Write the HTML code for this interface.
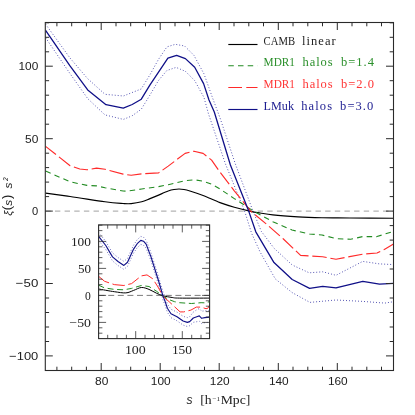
<!DOCTYPE html>
<html><head><meta charset="utf-8"><title>xi(s) s^2</title>
<style>
html,body{margin:0;padding:0;background:#fff;}
svg{display:block;will-change:transform;}
text{font-family:"Liberation Serif",serif;}
.sans, .sans text, text.sans, tspan.sans{font-family:"Liberation Sans",sans-serif;}
</style></head><body>
<svg width="415" height="415" viewBox="0 0 415 415">
<rect width="415" height="415" fill="#fff"/>
<clipPath id="mc"><rect x="45.3" y="22.5" width="348.2" height="348.0"/></clipPath>
<path d="M45.3,211.1 H393.5" stroke="#b4b4b4" stroke-width="1.4" stroke-dasharray="5.4 4.25" fill="none"/>
<g fill="none" stroke-linejoin="round" clip-path="url(#mc)">
<path d="M45.6,24.2 L70.0,58.0 L87.5,78.5 L105.0,94.3 L123.4,96.0 L141.3,88.9 L150.0,74.7 L158.4,59.5 L166.9,46.9 L175.3,44.3 L184.6,46.0 L193.9,55.3 L204.0,73.9 L212.4,97.5 L220.0,117.8 L235.2,163.5 L252.6,210.1 L261.3,231.3 L274.0,248.2 L292.2,265.0 L309.2,272.8 L322.8,271.8 L336.0,275.3 L362.7,261.4 L379.5,263.9 L393.5,264.6" stroke="#3c3ca8" stroke-width="0.95" stroke-dasharray="0.9 2.1"/>
<path d="M45.6,37.7 L70.0,73.6 L87.7,98.6 L105.0,114.9 L123.4,119.4 L132.0,115.9 L141.3,109.2 L150.0,95.0 L158.4,80.6 L166.9,70.5 L176.1,67.4 L185.4,71.3 L194.7,80.6 L204.0,97.5 L208.5,113.9 L225.3,163.5 L244.9,212.0 L251.6,233.3 L260.0,251.8 L275.2,278.8 L292.0,292.5 L309.9,302.4 L335.9,300.0 L362.9,301.4 L384.8,303.1 L393.5,301.7" stroke="#3c3ca8" stroke-width="0.95" stroke-dasharray="0.9 2.1"/>
<path d="M45.6,193.1 C49.7,193.7 60.2,195.1 70.1,196.5 C80.0,197.9 96.2,200.6 105.0,201.8 C113.8,203.0 118.7,203.2 123.1,203.5 C127.5,203.8 128.1,203.9 131.2,203.6 C134.3,203.3 138.6,202.6 141.7,201.8 C144.8,201.0 147.2,199.7 150.0,198.6 C152.8,197.5 155.6,196.4 158.6,195.1 C161.6,193.8 165.6,191.9 168.2,191.0 C170.8,190.1 172.2,189.8 174.0,189.5 C175.8,189.2 177.3,189.0 179.0,189.0 C180.7,189.0 182.2,189.2 184.0,189.5 C185.8,189.8 186.7,190.0 189.9,191.0 C193.1,192.0 198.1,193.6 203.1,195.5 C208.1,197.4 214.8,200.7 220.0,202.6 C225.2,204.5 229.4,205.8 234.3,207.2 C239.2,208.6 245.4,210.1 249.7,211.1 C254.0,212.1 256.1,212.4 260.0,213.0 C263.9,213.6 266.5,214.2 272.8,214.9 C279.1,215.6 289.8,216.4 298.0,216.9 C306.2,217.4 313.3,217.6 322.0,217.8 C330.7,218.0 338.1,217.9 350.0,218.0 C361.9,218.1 386.2,218.2 393.5,218.3" stroke="#000" stroke-width="1.15"/>
<path d="M45.6,171.0 L70.1,181.8 L87.0,185.4 L96.6,185.9 L105.0,187.8 L123.1,191.0 L127.2,191.2 L141.7,189.0 L158.6,186.6 L168.2,184.7 L185.1,180.6 L194.5,179.8 L203.1,181.1 L211.6,184.2 L220.0,189.0 L234.3,198.6 L253.6,211.1 L272.8,221.7 L292.0,230.0 L309.4,234.0 L322.0,235.0 L336.1,238.6 L350.6,239.3 L362.7,236.6 L377.0,236.6 L393.5,231.3" stroke="#228b22" stroke-width="1.1" stroke-dasharray="5.5 4.2"/>
<path d="M45.6,146.4 L70.1,165.7 L79.8,169.0 L87.0,169.8 L96.6,168.1 L105.0,169.3 L123.1,174.1 L131.2,175.3 L141.7,173.9 L158.6,172.9 L168.2,166.1 L185.1,153.4 L194.0,151.2 L203.1,153.4 L211.6,160.1 L220.0,172.2 L234.3,190.8 L250.7,211.1 L267.0,224.6 L283.4,239.0 L300.6,255.4 L322.6,256.8 L336.0,259.2 L362.7,254.2 L377.0,253.0 L384.3,249.4 L393.5,244.1" stroke="#ff2a2a" stroke-width="1.15" stroke-dasharray="14.4 3.8" stroke-dashoffset="1.2"/>
<path d="M45.6,30.4 L70.0,65.9 L87.7,89.9 L106.0,104.7 L123.3,108.2 L132.2,104.5 L141.3,99.2 L150.0,84.8 L167.9,58.2 L176.6,55.3 L185.4,58.6 L194.7,67.3 L203.6,83.6 L209.0,100.0 L214.3,112.0 L230.4,165.0 L248.7,211.1 L255.8,231.8 L274.0,262.6 L292.2,279.5 L309.6,288.3 L322.7,286.3 L336.0,287.8 L362.8,281.3 L379.5,284.2 L393.5,283.4" stroke="#101088" stroke-width="1.3"/>
</g>
<path d="M56.9,370.5 v-3.8 M56.9,22.5 v3.8 M71.7,370.5 v-3.8 M71.7,22.5 v3.8 M86.4,370.5 v-3.8 M86.4,22.5 v3.8 M101.2,370.5 v-7.5 M101.2,22.5 v7.5 M116.0,370.5 v-3.8 M116.0,22.5 v3.8 M130.7,370.5 v-3.8 M130.7,22.5 v3.8 M145.5,370.5 v-3.8 M145.5,22.5 v3.8 M160.2,370.5 v-7.5 M160.2,22.5 v7.5 M175.0,370.5 v-3.8 M175.0,22.5 v3.8 M189.7,370.5 v-3.8 M189.7,22.5 v3.8 M204.5,370.5 v-3.8 M204.5,22.5 v3.8 M219.2,370.5 v-7.5 M219.2,22.5 v7.5 M234.0,370.5 v-3.8 M234.0,22.5 v3.8 M248.8,370.5 v-3.8 M248.8,22.5 v3.8 M263.5,370.5 v-3.8 M263.5,22.5 v3.8 M278.3,370.5 v-7.5 M278.3,22.5 v7.5 M293.0,370.5 v-3.8 M293.0,22.5 v3.8 M307.8,370.5 v-3.8 M307.8,22.5 v3.8 M322.5,370.5 v-3.8 M322.5,22.5 v3.8 M337.3,370.5 v-7.5 M337.3,22.5 v7.5 M352.0,370.5 v-3.8 M352.0,22.5 v3.8 M366.8,370.5 v-3.8 M366.8,22.5 v3.8 M381.5,370.5 v-3.8 M381.5,22.5 v3.8 M45.3,355.9 h7.5 M393.5,355.9 h-7.5 M45.3,341.5 h3.8 M393.5,341.5 h-3.8 M45.3,327.0 h3.8 M393.5,327.0 h-3.8 M45.3,312.5 h3.8 M393.5,312.5 h-3.8 M45.3,298.0 h3.8 M393.5,298.0 h-3.8 M45.3,283.5 h7.5 M393.5,283.5 h-7.5 M45.3,269.0 h3.8 M393.5,269.0 h-3.8 M45.3,254.6 h3.8 M393.5,254.6 h-3.8 M45.3,240.1 h3.8 M393.5,240.1 h-3.8 M45.3,225.6 h3.8 M393.5,225.6 h-3.8 M45.3,211.1 h7.5 M393.5,211.1 h-7.5 M45.3,196.6 h3.8 M393.5,196.6 h-3.8 M45.3,182.1 h3.8 M393.5,182.1 h-3.8 M45.3,167.6 h3.8 M393.5,167.6 h-3.8 M45.3,153.2 h3.8 M393.5,153.2 h-3.8 M45.3,138.7 h7.5 M393.5,138.7 h-7.5 M45.3,124.2 h3.8 M393.5,124.2 h-3.8 M45.3,109.7 h3.8 M393.5,109.7 h-3.8 M45.3,95.2 h3.8 M393.5,95.2 h-3.8 M45.3,80.7 h3.8 M393.5,80.7 h-3.8 M45.3,66.2 h7.5 M393.5,66.2 h-7.5 M45.3,51.8 h3.8 M393.5,51.8 h-3.8 M45.3,37.3 h3.8 M393.5,37.3 h-3.8 M45.3,22.8 h3.8 M393.5,22.8 h-3.8" stroke="#2a2a2a" stroke-width="1" fill="none"/>
<rect x="45.3" y="22.5" width="348.2" height="348.0" fill="none" stroke="#2a2a2a" stroke-width="1.1"/>
<g font-size="11.8" fill="#222">
<text class="sans" x="95.0" y="385.2" textLength="13.3" lengthAdjust="spacingAndGlyphs">80</text>
<text class="sans" x="150.8" y="385.2" textLength="19.8" lengthAdjust="spacingAndGlyphs">100</text>
<text class="sans" x="209.8" y="385.2" textLength="19.8" lengthAdjust="spacingAndGlyphs">120</text>
<text class="sans" x="268.9" y="385.2" textLength="19.8" lengthAdjust="spacingAndGlyphs">140</text>
<text class="sans" x="327.9" y="385.2" textLength="19.8" lengthAdjust="spacingAndGlyphs">160</text>
<text class="sans" x="18.5" y="70.0" textLength="19.8" lengthAdjust="spacingAndGlyphs">100</text>
<text class="sans" x="25.0" y="142.5" textLength="13.3" lengthAdjust="spacingAndGlyphs">50</text>
<text class="sans" x="32.1" y="214.9" textLength="6.2" lengthAdjust="spacingAndGlyphs">0</text>
<text class="sans" x="15.8" y="287.3" textLength="22.5" lengthAdjust="spacingAndGlyphs">−50</text>
<text class="sans" x="9.2" y="359.8" textLength="29.1" lengthAdjust="spacingAndGlyphs">−100</text>
</g>
<text class="sans" x="186.6" y="403.6" font-size="12" font-style="italic" fill="#222">s</text>
<text x="200.2" y="403.6" font-size="13" fill="#222" textLength="50.2" lengthAdjust="spacingAndGlyphs">[h<tspan font-size="6.8" dy="-2.8" dx="0.8">−1</tspan><tspan dy="2.8" dx="0.5">Mpc]</tspan></text>
<g transform="translate(11.5,215.5) rotate(-90)" fill="#222" font-style="italic">
<text class="sans" x="-0.3" y="0" font-size="11.5" font-style="italic">ξ</text>
<text class="sans" x="5.2" y="-0.6" font-size="13" font-style="normal">(</text>
<text class="sans" x="9.8" y="0" font-size="11.8" font-style="italic">s</text>
<text class="sans" x="16.6" y="-0.6" font-size="13" font-style="normal">)</text>
<text class="sans" x="27.1" y="0" font-size="11.8" font-style="italic">s</text>
<text class="sans" x="34.4" y="-4.0" font-size="6.6" font-style="italic">2</text>
</g>
<path d="M228.3,44.5 H257.5" stroke="#000" stroke-width="1.15" fill="none"/>
<text x="263.6" y="44.6" font-size="12.5" fill="#222" textLength="31.4" lengthAdjust="spacingAndGlyphs">CAMB</text>
<text x="301.9" y="44.6" font-size="12.5" fill="#222" textLength="33.8" lengthAdjust="spacing">linear</text>
<path d="M228.3,65.7 H257.5" stroke="#228b22" stroke-width="1.15" fill="none" stroke-dasharray="5.5 4.2"/>
<text x="263.6" y="65.8" font-size="12.5" fill="#2a8f2a" textLength="31.4" lengthAdjust="spacingAndGlyphs">MDR1</text>
<text x="302.5" y="65.8" font-size="12.5" fill="#2a8f2a" textLength="30.1" lengthAdjust="spacing">halos</text>
<text x="341.0" y="65.8" font-size="12.5" fill="#2a8f2a" textLength="32.9" lengthAdjust="spacing">b=1.4</text>
<path d="M228.3,87.5 H257.5" stroke="#ff2a2a" stroke-width="1.15" fill="none" stroke-dasharray="13.7 4.3"/>
<text x="263.6" y="87.6" font-size="12.5" fill="#ff3434" textLength="31.4" lengthAdjust="spacingAndGlyphs">MDR1</text>
<text x="302.5" y="87.6" font-size="12.5" fill="#ff3434" textLength="30.1" lengthAdjust="spacing">halos</text>
<text x="341.0" y="87.6" font-size="12.5" fill="#ff3434" textLength="32.9" lengthAdjust="spacing">b=2.0</text>
<path d="M228.3,109.5 H257.5" stroke="#101088" stroke-width="1.15" fill="none"/>
<text x="263.6" y="109.6" font-size="12.5" fill="#1c1c90" textLength="30.4" lengthAdjust="spacingAndGlyphs">LMuk</text>
<text x="301.2" y="109.6" font-size="12.5" fill="#1c1c90" textLength="30.8" lengthAdjust="spacing">halos</text>
<text x="340.1" y="109.6" font-size="12.5" fill="#1c1c90" textLength="33.2" lengthAdjust="spacing">b=3.0</text>
<rect x="98.6" y="224.9" width="111.0" height="113.7" fill="#fff"/>
<clipPath id="ic"><rect x="98.6" y="224.9" width="111.0" height="113.7"/></clipPath>
<path d="M98.6,295.4 H209.6" stroke="#444" stroke-width="0.7" stroke-dasharray="6 3.6" fill="none"/>
<g fill="none" stroke-linejoin="round" clip-path="url(#ic)">
<path d="M98.6,232.4 L105.8,241.5 L112.5,252.9 L118.0,257.5 L123.9,261.4 L127.5,258.3 L133.6,245.1 L137.2,239.7 L140.8,236.4 L143.5,237.2 L146.1,240.1 L150.9,252.6 L158.3,276.0 L163.1,292.3 L165.0,296.9 L167.4,304.1 L171.0,309.3 L177.0,312.1 L183.1,316.3 L187.3,317.6 L189.7,316.7 L193.3,312.1 L197.5,309.3 L199.3,308.6 L201.7,311.2 L204.8,310.8 L209.6,310.7" stroke="#3c3ca8" stroke-width="0.8" stroke-dasharray="0.9 2.0"/>
<path d="M98.6,240.4 L105.8,249.5 L112.5,260.9 L118.0,265.5 L123.9,269.4 L127.5,266.3 L133.6,253.1 L137.2,247.7 L140.8,244.4 L143.5,245.2 L146.1,248.1 L150.9,260.6 L158.3,284.0 L163.1,300.4 L165.0,305.1 L167.4,312.3 L171.0,317.7 L177.0,320.8 L183.1,325.1 L187.3,326.5 L189.7,325.7 L193.3,322.3 L197.5,321.6 L199.3,321.1 L201.7,323.5 L204.8,322.7 L209.6,322.2" stroke="#3c3ca8" stroke-width="0.8" stroke-dasharray="0.9 2.0"/>
<path d="M98.6,289.0 C101.2,289.4 109.8,291.1 114.3,291.7 C118.8,292.3 122.6,293.1 125.8,292.9 C129.0,292.7 131.0,291.3 133.6,290.4 C136.2,289.5 138.7,287.7 141.3,287.5 C143.9,287.3 146.4,288.4 149.0,289.4 C151.6,290.4 154.3,292.2 156.7,293.3 C159.0,294.4 160.5,295.1 163.1,295.8 C165.7,296.5 169.5,297.1 172.2,297.5 C174.9,297.9 173.3,298.0 179.5,298.1 C185.7,298.2 204.6,298.1 209.6,298.1" stroke="#000" stroke-width="1.0"/>
<path d="M98.6,285.2 L104.6,287.9 L114.3,289.4 L123.9,289.8 L131.6,288.4 L141.3,285.5 L149.0,286.5 L156.7,291.3 L163.1,296.4 L169.8,299.9 L174.6,301.7 L179.5,302.7 L191.5,303.5 L201.1,302.7 L206.6,302.9 L209.6,301.4" stroke="#228b22" stroke-width="1.0" stroke-dasharray="6 3.6"/>
<path d="M98.6,276.3 L104.6,281.3 L114.3,284.6 L123.9,285.5 L131.6,283.6 L141.3,275.9 L147.0,274.9 L152.8,278.8 L158.0,287.0 L163.1,296.4 L169.8,302.3 L180.1,311.9 L183.7,311.9 L190.9,310.1 L196.3,307.1 L201.1,307.1 L206.0,308.7 L207.8,308.3 L209.6,305.3" stroke="#ff2a2a" stroke-width="1.0" stroke-dasharray="12.5 3.6"/>
<path d="M98.6,236.4 L105.8,245.5 L112.5,256.9 L118.0,261.5 L123.9,265.4 L127.5,262.3 L133.6,249.1 L137.2,243.7 L140.8,240.4 L143.5,241.2 L146.1,244.1 L150.9,256.6 L158.3,280.0 L163.1,296.4 L165.0,301.1 L167.4,308.3 L171.0,313.7 L177.0,316.7 L183.1,321.0 L187.3,322.4 L189.7,321.6 L193.3,318.0 L197.5,316.5 L199.3,315.9 L201.7,318.3 L204.8,317.6 L209.6,317.1" stroke="#101088" stroke-width="1.15"/>
</g>
<path d="M107.7,338.6 v-3.8 M107.7,224.9 v3.8 M117.0,338.6 v-3.8 M117.0,224.9 v3.8 M126.4,338.6 v-3.8 M126.4,224.9 v3.8 M135.7,338.6 v-7.5 M135.7,224.9 v7.5 M145.0,338.6 v-3.8 M145.0,224.9 v3.8 M154.4,338.6 v-3.8 M154.4,224.9 v3.8 M163.7,338.6 v-3.8 M163.7,224.9 v3.8 M173.0,338.6 v-3.8 M173.0,224.9 v3.8 M182.3,338.6 v-7.5 M182.3,224.9 v7.5 M191.7,338.6 v-3.8 M191.7,224.9 v3.8 M201.0,338.6 v-3.8 M201.0,224.9 v3.8 M98.6,333.2 h3.8 M209.6,333.2 h-3.8 M98.6,327.8 h3.8 M209.6,327.8 h-3.8 M98.6,322.4 h7.5 M209.6,322.4 h-7.5 M98.6,317.0 h3.8 M209.6,317.0 h-3.8 M98.6,311.6 h3.8 M209.6,311.6 h-3.8 M98.6,306.2 h3.8 M209.6,306.2 h-3.8 M98.6,300.8 h3.8 M209.6,300.8 h-3.8 M98.6,295.4 h7.5 M209.6,295.4 h-7.5 M98.6,290.0 h3.8 M209.6,290.0 h-3.8 M98.6,284.6 h3.8 M209.6,284.6 h-3.8 M98.6,279.2 h3.8 M209.6,279.2 h-3.8 M98.6,273.8 h3.8 M209.6,273.8 h-3.8 M98.6,268.4 h7.5 M209.6,268.4 h-7.5 M98.6,263.0 h3.8 M209.6,263.0 h-3.8 M98.6,257.6 h3.8 M209.6,257.6 h-3.8 M98.6,252.2 h3.8 M209.6,252.2 h-3.8 M98.6,246.8 h3.8 M209.6,246.8 h-3.8 M98.6,241.4 h7.5 M209.6,241.4 h-7.5 M98.6,236.0 h3.8 M209.6,236.0 h-3.8 M98.6,230.6 h3.8 M209.6,230.6 h-3.8 M98.6,225.2 h3.8 M209.6,225.2 h-3.8" stroke="#2a2a2a" stroke-width="0.75" fill="none"/>
<rect x="98.6" y="224.9" width="111.0" height="113.7" fill="none" stroke="#2a2a2a" stroke-width="1.1"/>
<g font-size="12.3" fill="#222">
<text x="124.9" y="354.1" textLength="20.9" lengthAdjust="spacingAndGlyphs">100</text>
<text x="171.9" y="354.1" textLength="20.2" lengthAdjust="spacingAndGlyphs">150</text>
<text x="70.9" y="245.6" textLength="20.0" lengthAdjust="spacingAndGlyphs">100</text>
<text x="77.9" y="272.6" textLength="13.0" lengthAdjust="spacingAndGlyphs">50</text>
<text x="85.1" y="299.6" textLength="5.8" lengthAdjust="spacingAndGlyphs">0</text>
<text x="69.4" y="326.6" textLength="21.5" lengthAdjust="spacingAndGlyphs">−50</text>
</g>
</svg>
</body></html>
